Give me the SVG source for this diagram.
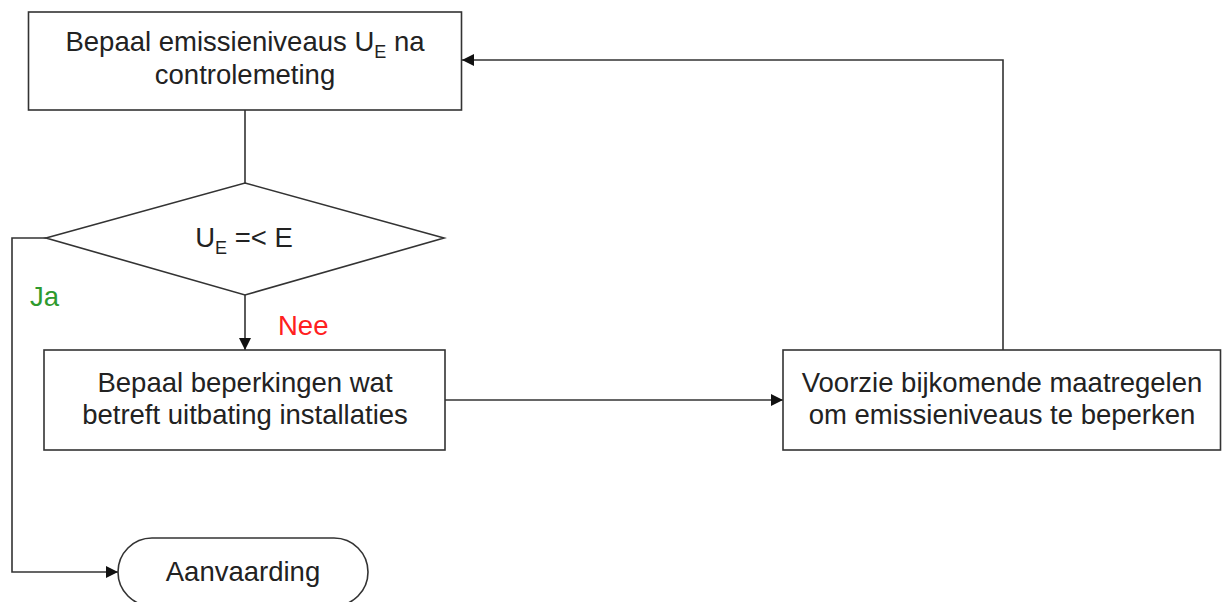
<svg xmlns="http://www.w3.org/2000/svg" width="1222" height="602" viewBox="0 0 1222 602">
<style>
.n{fill:#fff;stroke:#333;stroke-width:1.6}
.t{font-family:"Liberation Sans",Arial,sans-serif;font-size:27.5px;fill:#222;text-anchor:middle}
.c{fill:none;stroke:#333;stroke-width:1.6}
.sub{font-size:18px}
.l{font-family:"Liberation Sans",Arial,sans-serif;font-size:27.5px}
</style>
<defs>
<marker id="a" viewBox="0 0 10 10" refX="10" refY="5" markerWidth="16" markerHeight="12" markerUnits="userSpaceOnUse" orient="auto">
<path d="M0,0 L10,5 L0,10 Z" fill="#111"/>
</marker>
</defs>
<rect width="1222" height="602" fill="#fff"/>
<g id="connectors">
<path class="c" d="M245,110 L245,183"/>
<path class="c" d="M245,295 L245,350" marker-end="url(#a)"/>
<path class="c" d="M46,238 L12,238 L12,572 L118,572" marker-end="url(#a)"/>
<path class="c" d="M445,400 L783,400" marker-end="url(#a)"/>
<path class="c" d="M1003,350 L1003,60 L462,60" marker-end="url(#a)"/>
</g>
<g id="n1">
<rect class="n" x="28.5" y="12" width="433" height="98"/>
<text class="t" x="245" y="51">Bepaal emissieniveaus U<tspan class="sub" dy="7">E</tspan><tspan dy="-7"> na</tspan></text>
<text class="t" x="245" y="84">controlemeting</text>
</g>
<g id="n2">
<polygon class="n" points="245,183 444,238 245,295 46,238"/>
<text class="t" x="244" y="247">U<tspan class="sub" dy="7">E</tspan><tspan dy="-7"> =&lt; E</tspan></text>
</g>
<g id="n3">
<rect class="n" x="44" y="350" width="401" height="100"/>
<text class="t" x="245" y="392">Bepaal beperkingen wat</text>
<text class="t" x="245" y="424">betreft uitbating installaties</text>
</g>
<g id="n4">
<rect class="n" x="783" y="350" width="437.5" height="100"/>
<text class="t" x="1002" y="392">Voorzie bijkomende maatregelen</text>
<text class="t" x="1002" y="424">om emissieniveaus te beperken</text>
</g>
<g id="n5">
<rect class="n" x="118" y="538" width="250" height="68" rx="34" ry="34"/>
<text class="t" x="243" y="581">Aanvaarding</text>
</g>
<text class="l" x="30" y="306" fill="#2e9a2e">Ja</text>
<text class="l" x="278" y="335" fill="#ff2020">Nee</text>
</svg>
